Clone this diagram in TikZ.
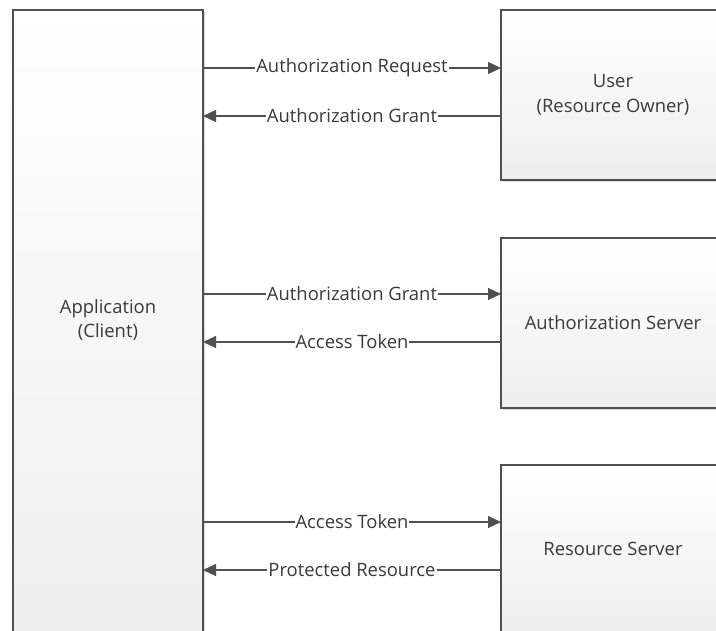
\documentclass[tikz,border=0pt]{standalone}
\usepackage{fontspec}
\setmainfont{Open Sans}
\usetikzlibrary{arrows.meta}
\definecolor{edge}{HTML}{505050}
\definecolor{txt}{HTML}{3A3A3A}
\definecolor{boxbot}{HTML}{EEEEEE}
\begin{document}
\begin{tikzpicture}[x=1bp,y=-1bp,
  font=\fontsize{18.5}{25}\selectfont, text=txt,
  boxst/.style={draw=edge, line width=1.4bp, top color=white, bottom color=boxbot, inner sep=0pt, align=center},
  shad/.style={fill=black!15},
  lbl/.style={fill=white, inner sep=1bp, text=txt},
  conn/.style={draw=edge, line width=1.1bp, -{Triangle[length=13bp,width=12bp]}}]
\useasboundingbox (0,0) rectangle (716,631);
\begin{scope}
\clip (0,0) rectangle (716,631);
% shadows
\fill[shad] (15,12) rectangle (205,640);
\fill[shad] (503,12) rectangle (730,182);
\fill[shad] (503,240) rectangle (730,410);
\fill[shad] (503,467) rectangle (730,640);
% boxes
\node[boxst, minimum width=190bp, minimum height=628bp] (app) at (108,324) {};
\node[boxst, minimum width=224bp, minimum height=170bp] (user) at (613,95) {};
\node[boxst, minimum width=224bp, minimum height=170bp] (auth) at (613,323) {};
\node[boxst, minimum width=224bp, minimum height=168bp] (res) at (613,549) {};
\end{scope}
\node[align=center] (apptxt) at (108,320) {Application\\(Client)};
\node[align=center] (usertxt) at (613,95) {User\\(Resource Owner)};
\node (authtxt) at (613,323) {Authorization Server};
\node (restxt) at (613,549) {Resource Server};
% connectors
\coordinate (a1) at (203,68);  \coordinate (b1) at (501,68);
\coordinate (a2) at (203,116); \coordinate (b2) at (501,116);
\coordinate (a3) at (203,294); \coordinate (b3) at (501,294);
\coordinate (a4) at (203,342); \coordinate (b4) at (501,342);
\coordinate (a5) at (203,522); \coordinate (b5) at (501,522);
\coordinate (a6) at (203,570); \coordinate (b6) at (501,570);
\draw[conn] (a1) -- node[lbl] {Authorization Request} (b1);
\draw[conn] (b2) -- node[lbl] {Authorization Grant} (a2);
\draw[conn] (a3) -- node[lbl] {Authorization Grant} (b3);
\draw[conn] (b4) -- node[lbl] {Access Token} (a4);
\draw[conn] (a5) -- node[lbl] {Access Token} (b5);
\draw[conn] (b6) -- node[lbl] {Protected Resource} (a6);
\end{tikzpicture}
\end{document}
